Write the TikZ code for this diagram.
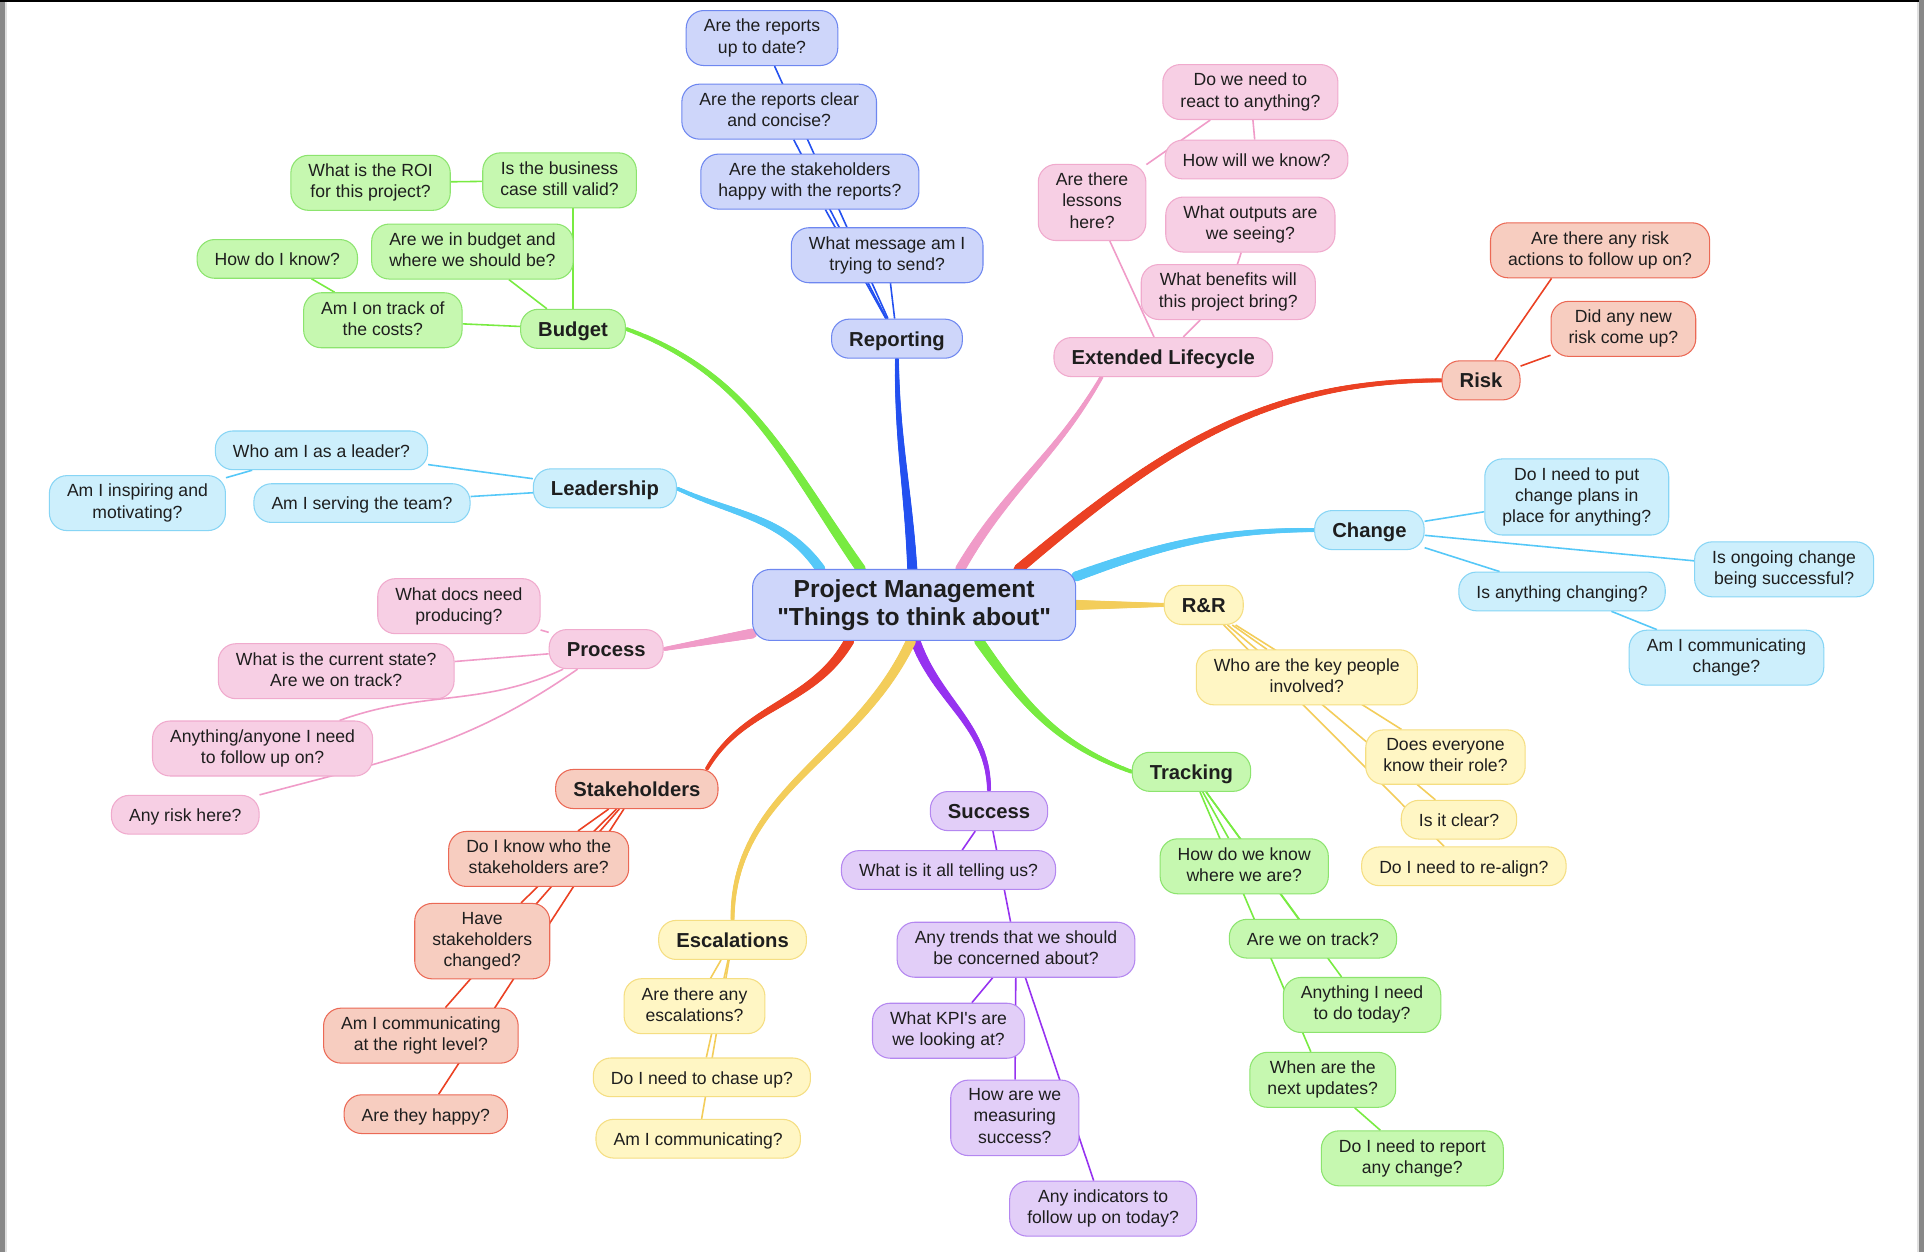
\documentclass[tikz,border=0pt]{standalone}
\usepackage{fontspec}
\setmainfont{Liberation Sans}[Ligatures=TeXOff]
\usepackage{tikz}
\usetikzlibrary{positioning,backgrounds,decorations.markings}
\definecolor{ink}    {RGB}{30, 30, 30}
\definecolor{frameGray}{RGB}{136,136,136}
\definecolor{blueLn} {RGB}{35, 80,240}
\definecolor{blueFl} {RGB}{206,214,250}
\definecolor{blueBd} {RGB}{110,135,240}
\definecolor{pinkLn} {RGB}{240,155,200}
\definecolor{pinkFl} {RGB}{247,207,228}
\definecolor{pinkBd} {RGB}{240,170,205}
\definecolor{redLn}  {RGB}{235, 65, 35}
\definecolor{redFl}  {RGB}{247,205,192}
\definecolor{redBd}  {RGB}{235,105, 85}
\definecolor{cyanLn} {RGB}{ 85,200,248}
\definecolor{cyanFl} {RGB}{205,239,252}
\definecolor{cyanBd} {RGB}{135,213,245}
\definecolor{yelLn}  {RGB}{243,205, 90}
\definecolor{yelFl}  {RGB}{255,246,196}
\definecolor{yelBd}  {RGB}{245,222,130}
\definecolor{grnLn}  {RGB}{120,235, 65}
\definecolor{grnFl}  {RGB}{198,248,176}
\definecolor{grnBd}  {RGB}{140,228,110}
\definecolor{purLn}  {RGB}{150, 50,240}
\definecolor{purFl}  {RGB}{226,206,248}
\definecolor{purBd}  {RGB}{180,135,240}
\newcommand\tstrut[1]{\rule{0pt}{#1}}
\newcommand\bstrut[1]{\rule[-#1]{0pt}{#1}}

\begin{document}
\begin{tikzpicture}[x=0.0245cm,y=0.0245cm,
        lf/.style={draw=#1Bd,fill=#1Fl,rounded corners=10pt,line width=0.6pt,
                   align=center,text=ink,inner xsep=10pt,inner ysep=4.9pt,
                   font=\fontsize{10}{12}\selectfont,
                   execute at begin node=\tstrut{10pt},
                   execute at end node=\bstrut{2.2pt}},
        tp/.style={lf=#1,font=\bfseries\fontsize{11.5}{13.8}\selectfont,inner ysep=4.2pt,
                   execute at begin node=\tstrut{11.2pt},
                   execute at end node=\bstrut{2.6pt}},
        hub/.style={lf=blue,font=\bfseries\fontsize{14}{16}\selectfont,
                    inner xsep=14pt,inner ysep=5.6pt,
                    execute at begin node=\tstrut{13.4pt},
                    execute at end node=\bstrut{2.6pt}},
        ed/.style={draw=#1Ln,line width=0.9pt},
        tr/.style={postaction={decorate,decoration={markings,
                   mark=between positions 0 and 1 step 0.7pt with {
                     \pgfmathsetmacro\trad{2.9-1.75*\pgfkeysvalueof{/pgf/decoration/mark info/distance from start}/\pgfdecoratedpathlength}
                     \fill[#1Ln] (0,0) circle (\trad pt);}}}}]

        \useasboundingbox (0,0) rectangle (1568,-1020);

        % centre
        \node[hub] (pm) at (745,-493) {Project Management\\"Things to think about"};

        % Reporting
        \node[tp=blue] (rep)  at (731,-276) {Reporting};
        \node[lf=blue] (rUp)  at (621,-31)  {Are the reports\\up to date?};
        \node[lf=blue] (rClr) at (635,-91)  {Are the reports clear\\and concise?};
        \node[lf=blue] (rHap) at (660,-148) {Are the stakeholders\\happy with the reports?};
        \node[lf=blue] (rMsg) at (723,-208) {What message am I\\trying to send?};

        % Extended Lifecycle
        \node[tp=pink] (ext)    at (948,-291)  {Extended Lifecycle};
        \node[lf=pink] (eLes)   at (890,-165)  {Are there\\lessons\\here?};
        \node[lf=pink] (eReact) at (1019,-75)  {Do we need to\\react to anything?};
        \node[lf=pink] (eKnow)  at (1024,-130) {How will we know?};
        \node[lf=pink] (eOut)   at (1019,-183) {What outputs are\\we seeing?};
        \node[lf=pink] (eBen)   at (1001,-238) {What benefits will\\this project bring?};

        % Risk
        \node[tp=red] (risk) at (1207,-310) {Risk};
        \node[lf=red] (kAct) at (1304,-204) {Are there any risk\\actions to follow up on?};
        \node[lf=red] (kNew) at (1323,-268) {Did any new\\risk come up?};

        % Change
        \node[tp=cyan] (chg)   at (1116,-432) {Change};
        \node[lf=cyan] (cPlan) at (1285,-405) {Do I need to put\\change plans in\\place for anything?};
        \node[lf=cyan] (cOngo) at (1454,-464) {Is ongoing change\\being successful?};
        \node[lf=cyan] (cAny)  at (1273,-482) {Is anything changing?};
        \node[lf=cyan] (cComm) at (1407,-536) {Am I communicating\\change?};

        % R&R
        \node[tp=yel] (rr)     at (981,-493)  {R\&R};
        \node[lf=yel] (qKey)   at (1065,-552) {Who are the key people\\involved?};
        \node[lf=yel] (qRole)  at (1178,-617) {Does everyone\\know their role?};
        \node[lf=yel] (qClear) at (1189,-668) {Is it clear?};
        \node[lf=yel] (qAlign) at (1193,-706) {Do I need to re-align?};

        % Tracking
        \node[tp=grn] (trk)    at (971,-629)  {Tracking};
        \node[lf=grn] (tWhere) at (1014,-706) {How do we know\\where we are?};
        \node[lf=grn] (tTrack) at (1070,-765) {Are we on track?};
        \node[lf=grn] (tToday) at (1110,-819) {Anything I need\\to do today?};
        \node[lf=grn] (tNext)  at (1078,-880) {When are the\\next updates?};
        \node[lf=grn] (tRep)   at (1151,-944) {Do I need to report\\any change?};

        % Success
        \node[tp=pur] (suc)    at (806,-661) {Success};
        \node[lf=pur] (sTell)  at (773,-709) {What is it all telling us?};
        \node[lf=pur] (sTrend) at (828,-774) {Any trends that we should\\be concerned about?};
        \node[lf=pur] (sKpi)   at (773,-840) {What KPI's are\\we looking at?};
        \node[lf=pur] (sMeas)  at (827,-911) {How are we\\measuring\\success?};
        \node[lf=pur] (sInd)   at (899,-985) {Any indicators to\\follow up on today?};

        % Escalations
        \node[tp=yel] (esc)    at (597,-766) {Escalations};
        \node[lf=yel] (xAny)   at (566,-820) {Are there any\\escalations?};
        \node[lf=yel] (xChase) at (572,-878) {Do I need to chase up?};
        \node[lf=yel] (xComm)  at (569,-928) {Am I communicating?};

        % Stakeholders
        \node[tp=red] (stk)    at (519,-643) {Stakeholders};
        \node[lf=red] (hWho)   at (439,-700) {Do I know who the\\stakeholders are?};
        \node[lf=red] (hChg)   at (393,-767) {Have\\stakeholders\\changed?};
        \node[lf=red] (hLvl)   at (343,-844) {Am I communicating\\at the right level?};
        \node[lf=red] (hHappy) at (347,-908) {Are they happy?};

        % Process
        \node[tp=pink] (proc)   at (494,-529) {Process};
        \node[lf=pink] (pDocs)  at (374,-494) {What docs need\\producing?};
        \node[lf=pink] (pState) at (274,-547) {What is the current state?\\Are we on track?};
        \node[lf=pink] (pAny)   at (214,-610) {Anything/anyone I need\\to follow up on?};
        \node[lf=pink] (pRisk)  at (151,-664) {Any risk here?};

        % Leadership
        \node[tp=cyan] (lead)   at (493,-398) {Leadership};
        \node[lf=cyan] (lWho)   at (262,-367) {Who am I as a leader?};
        \node[lf=cyan] (lServe) at (295,-410) {Am I serving the team?};
        \node[lf=cyan] (lInsp)  at (112,-410) {Am I inspiring and\\motivating?};

        % Budget
        \node[tp=grn] (bud)   at (467,-268) {Budget};
        \node[lf=grn] (bBiz)  at (456,-147) {Is the business\\case still valid?};
        \node[lf=grn] (bRoi)  at (302,-149) {What is the ROI\\for this project?};
        \node[lf=grn] (bIn)   at (385,-205) {Are we in budget and\\where we should be?};
        \node[lf=grn] (bKnow) at (226,-211) {How do I know?};
        \node[lf=grn] (bCost) at (312,-261) {Am I on track of\\the costs?};

        \begin{scope}[on background layer]
          \fill[white] (0,0) rectangle (1568,-1020);
          \fill[frameGray] (0,0) rectangle (4,-1020);
          \fill[black!12] (4,0) rectangle (5.6,-1020);
          \fill[frameGray] (1564,0) rectangle (1568,-1020);
          \fill[black!12] (1562,0) rectangle (1564,-1020);
          \fill[black] (0,0) rectangle (1564,-1.8);

          % main branches
          \path[tr=grn]  (pm.146)  to[out=125,in=-20]  (bud.east);
          \path[tr=blue] (pm.93)   to[out=93,in=-90]   (rep.south);
          \path[tr=pink] (pm.38)   to[out=60,in=-120]  (ext.-162);
          \path[tr=red]  (pm.19)   to[out=40,in=180]   (risk.west);
          \path[tr=cyan] (pm.10)   to[out=20,in=180]   (chg.west);
          \path[tr=yel]  (pm.east) --                  (rr.west);
          \path[tr=grn]  (pm.-29)  to[out=-55,in=160]  (trk.west);
          \path[tr=pur]  (pm.-88)  to[out=-70,in=90]   (suc.north);
          \path[tr=yel]  (pm.-95)  to[out=-115,in=90]  (esc.north);
          \path[tr=red]  (pm.-151) to[out=-120,in=60]  (stk.16);
          \path[tr=pink] (pm.-170) to[out=190,in=10]   (proc.east);
          \path[tr=cyan] (pm.159)  to[out=125,in=-25]  (lead.east);

          % leaves
          \foreach \a/\b in {rep/rUp,rep/rClr,rep/rHap,rep/rMsg}{
            \draw[ed=blue] (\a)--(\b);
          }
          \foreach \a/\b in {ext/eLes,eLes/eReact,eReact/eKnow,ext/eBen,eBen/eOut}{
            \draw[ed=pink] (\a)--(\b);
          }
          \draw[ed=red] (risk)--(kAct.-150);
          \draw[ed=red] (risk)--(kNew);
          \foreach \a/\b in {chg/cPlan,chg/cOngo,chg/cAny,cAny/cComm}{
            \draw[ed=cyan] (\a)--(\b);
          }
          \foreach \a/\b in {rr/qKey,rr/qRole,rr/qClear,rr/qAlign}{
            \draw[ed=yel] (\a)--(\b);
          }
          \foreach \a/\b in {trk/tWhere,trk/tTrack,trk/tToday,trk/tNext,tNext/tRep}{
            \draw[ed=grn] (\a)--(\b);
          }
          \foreach \a/\b in {suc/sTell,suc/sTrend,sTrend/sKpi,sTrend/sMeas,sTrend/sInd}{
            \draw[ed=pur] (\a)--(\b);
          }
          \foreach \a/\b in {esc/xAny,esc/xChase,esc/xComm}{
            \draw[ed=yel] (\a)--(\b);
          }
          \foreach \a/\b in {stk/hWho,stk/hChg,stk/hLvl,stk/hHappy}{
            \draw[ed=red] (\a)--(\b);
          }
          \foreach \a/\b in {proc/pDocs,proc/pState}{
            \draw[ed=pink] (\a)--(\b);
          }
          \draw[ed=pink] (proc) to[out=205,in=20] (pAny);
          \draw[ed=pink] (proc) to[out=215,in=15] (pRisk);
          \foreach \a/\b in {lead/lWho,lead/lServe,lWho/lInsp}{
            \draw[ed=cyan] (\a)--(\b);
          }
          \draw[ed=grn] (bud.north)--(bBiz.south -| bud.north);
          \foreach \a/\b in {bBiz/bRoi,bud/bIn,bud/bCost,bCost/bKnow}{
            \draw[ed=grn] (\a)--(\b);
          }
        \end{scope}
      \end{tikzpicture}
\end{document}
